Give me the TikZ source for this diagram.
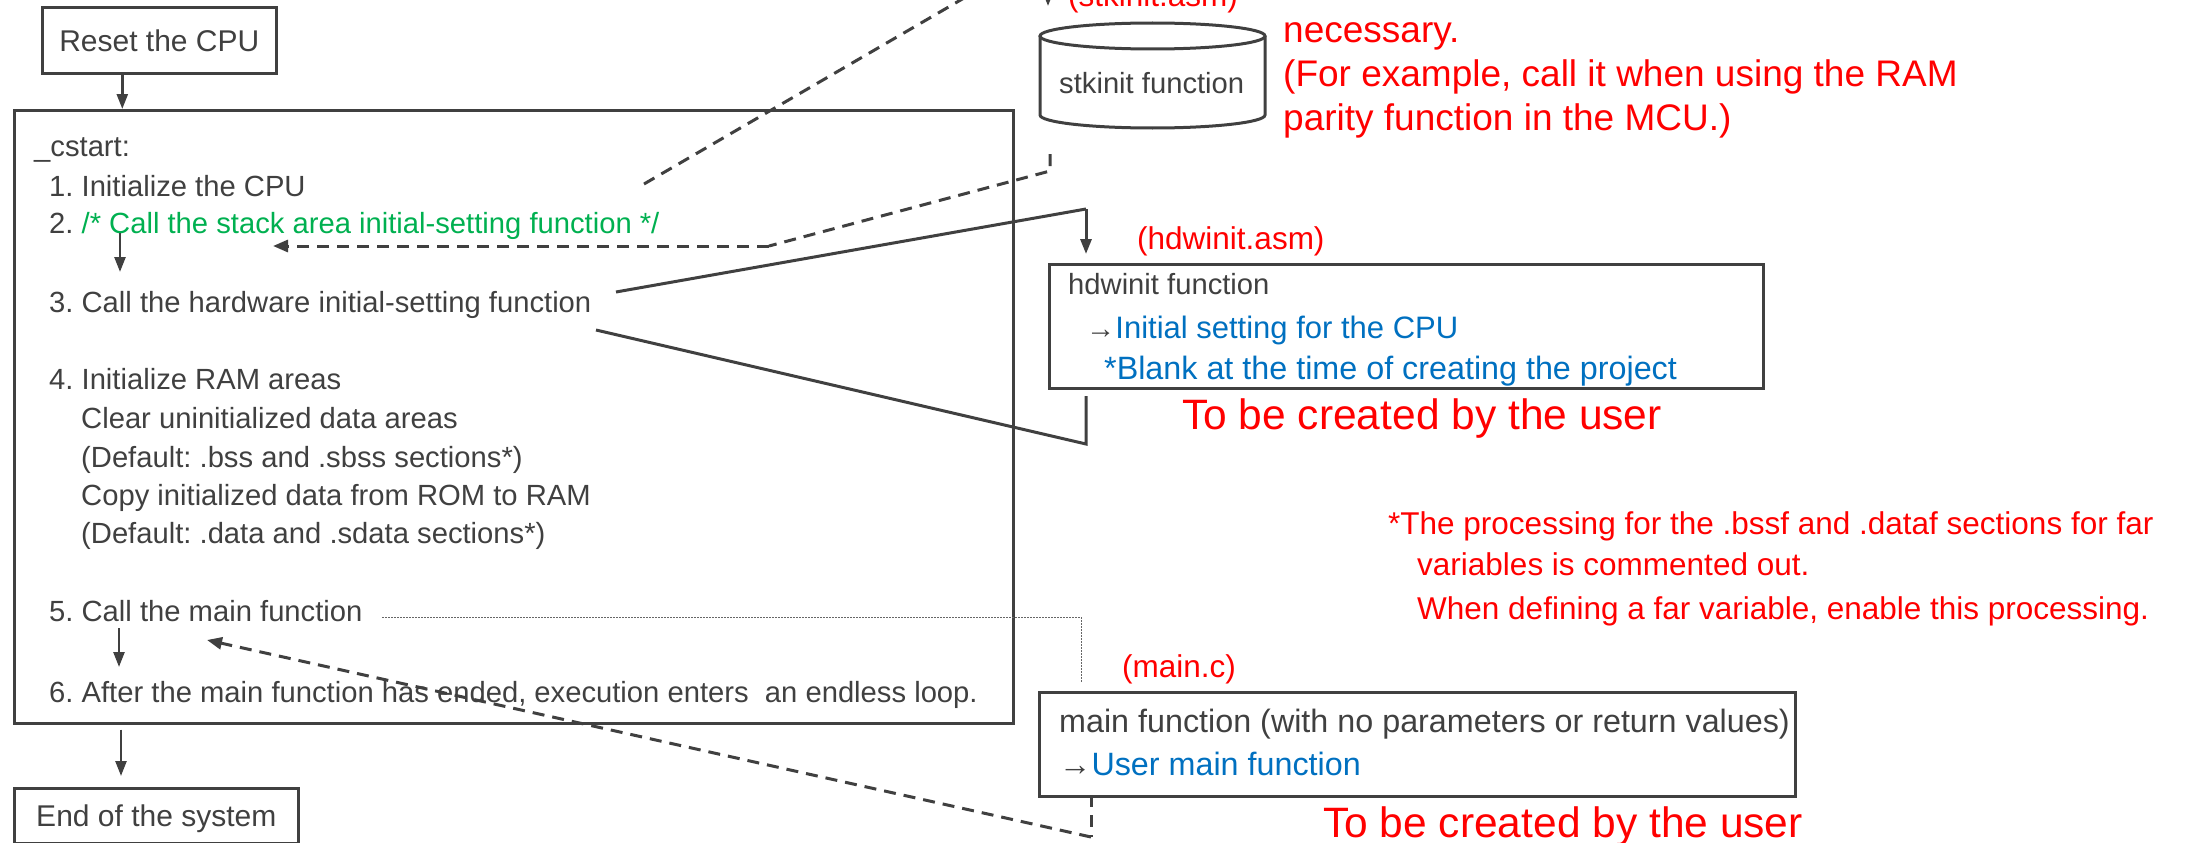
\documentclass[tikz,border=0pt]{standalone}
\usepackage{fontspec}
\setmainfont{Liberation Sans}
\usetikzlibrary{arrows.meta}
\definecolor{ink}{HTML}{404040}
\definecolor{nred}{HTML}{FF0000}
\definecolor{ngreen}{HTML}{00B050}
\definecolor{nblue}{HTML}{0070C0}
\frenchspacing
\tikzset{
 box/.style={draw=ink, line width=2.6pt, inner sep=0pt, text=ink, font=\fontsize{30}{36}\selectfont},
 txt/.style={anchor=base west, inner sep=0pt, text=ink, font=\fontsize{29.2}{36}\selectfont},
 txtl/.style={txt, font=\fontsize{32.3}{38}\selectfont},
 note/.style={anchor=base west, inner sep=0pt, text=nred, font=\fontsize{31.5}{38}\selectfont},
 notel/.style={note, font=\fontsize{37}{44}\selectfont},
 bignote/.style={anchor=base west, inner sep=0pt, text=nred, font=\fontsize{42.5}{50}\selectfont},
 arr/.style={draw=ink, line width=2.5pt, -{Triangle[length=15pt,width=11pt]}},
 dsh/.style={draw=ink, line width=3pt, dash pattern=on 12pt off 8pt},
 dsharr/.style={dsh, -{Triangle[length=15pt,width=12pt]}},
 solidline/.style={draw=ink, line width=3pt},
 solidarr/.style={solidline, -{Triangle[length=15pt,width=11pt]}},
 dotline/.style={draw=ink!80, line width=1pt, dash pattern=on 1.5pt off 1.5pt},
}
\begin{document}
\begin{tikzpicture}[x=1pt,y=-1pt]
\useasboundingbox (0,0) rectangle (2192,843);
\clip (0,0) rectangle (2192,843);

% boxes
\node[box, anchor=north west, minimum width=234pt, minimum height=66pt, text depth=0pt] (reset) at (41,6) {Reset the CPU};
\node[box, anchor=north west, minimum width=999pt, minimum height=613pt] (cstart) at (13,109) {};
\node[box, anchor=north west, minimum width=284pt, minimum height=55pt, text depth=0pt] (end) at (13,787) {End of the system};
\node[box, line width=3pt, anchor=north west, minimum width=714pt, minimum height=124pt] (hdw) at (1048,263) {};
\node[box, line width=3pt, anchor=north west, minimum width=756pt, minimum height=104pt] (mainc) at (1038,691) {};

% stkinit cylinder
\draw[ink, line width=3pt] (1040,36) -- (1040,115) arc[start angle=180, end angle=0, x radius=112.5, y radius=13] -- (1265,36);
\draw[ink, line width=3pt] (1152.5,36) ellipse [x radius=112.5, y radius=13];
\node[txt] (stk) at (1059,93) {stkinit function};

% _cstart text
\node[txt] (c0) at (34,156) {\_cstart:};
\node[txt] (i1) at (49,196) {1. Initialize the CPU};
\node[txt] (i2) at (49,233) {2. {\color{ngreen}/* Call the stack area initial-setting function */}};
\node[txt] (i3) at (49,312) {3. Call the hardware initial-setting function};
\node[txt] (i4) at (49,389) {4. Initialize RAM areas};
\node[txt] (i4a) at (81,428) {Clear uninitialized data areas};
\node[txt] (i4b) at (81,467) {(Default: .bss and .sbss sections*)};
\node[txt] (i4c) at (81,505) {Copy initialized data from ROM to RAM};
\node[txt] (i4d) at (81,543) {(Default: .data and .sdata sections*)};
\node[txt] (i5) at (49,621) {5. Call the main function};
\node[txt] (i6) at (49,702) {6. After the main function has ended, execution enters~ an endless loop.};

% hdwinit text
\node[note] (hdwfile) at (1137,249) {(hdwinit.asm)};
\node[txt] (h1) at (1068,294) {hdwinit function};
\node[txt] (h2) at (1086,338) {→{\fontsize{31}{36}\selectfont\color{nblue}Initial setting for the CPU}};
\node[txtl, text=nblue] (h3) at (1104,379) {*Blank at the time of creating the project};
\node[bignote] (user1) at (1182,429) {To be created by the user};

% stkinit notes
\node[note] (stkfile) at (1068,7) {(stkinit.asm)};
\node[notel] (n1) at (1283,43) {necessary.};
\node[notel] (n2) at (1283,86) {(For example, call it when using the RAM};
\node[notel] (n3) at (1283,130) {parity function in the MCU.)};

% footnote
\node[note] (f1) at (1388,534) {*The processing for the .bssf and .dataf sections for far};
\node[note] (f2) at (1417,575) {variables is commented out.};
\node[note] (f3) at (1417,619) {When defining a far variable, enable this processing.};

% main.c
\node[note] (mainfile) at (1122,677) {(main.c)};
\node[txtl] (m1) at (1059,732) {main function (with no parameters or return values)};
\node[txtl] (m2) at (1059,775) {→{\color{nblue}User main function}};
\node[bignote] (user2) at (1323,837) {To be created by the user};

% coordinates
\coordinate (topin) at (1048,-30);
\coordinate (topend) at (1048,6);
\coordinate (stkout) at (1050,154);
\coordinate (k1) at (1050,171);
\coordinate (k2) at (769,246);
\coordinate (stkret) at (273,246);
\coordinate (callfrom) at (644,184);
\coordinate (callto) at (995,-20);
\coordinate (hA) at (616,292);
\coordinate (hA1) at (1086,209);
\coordinate (hA2) at (1086,254);
\coordinate (hB) at (596,330);
\coordinate (hB1) at (1086,444);
\coordinate (hB2) at (1086,396);
\coordinate (d0) at (382,617);
\coordinate (d1) at (1081,617);
\coordinate (d2) at (1081,682);
\coordinate (mout) at (1091,795);
\coordinate (m1c) at (1091,837);
\coordinate (mret) at (207,640);

% connectors
\draw[arr] ([xshift=-37pt]reset.south) -- ([xshift=-37pt]reset.south |- cstart.north);
\draw[arr] ([xshift=71pt]i2.base west) -- ++(0,39);
\draw[arr] ([xshift=70pt,yshift=-7pt]i5.base west) -- ++(0,39);
\draw[arr, shorten >=11pt] ([xshift=108pt,yshift=-5pt]cstart.south west) -- ([xshift=108pt]cstart.south west |- end.north);
\draw[arr] (topin) -- (topend);

\draw[dsh] (stkout) -- (k1) -- (k2);
\draw[dsharr] (k2) -- (stkret);
\draw[dsh] (callfrom) -- (callto);

\draw[solidline] (hA) -- (hA1);
\draw[solidarr] (hA1) -- (hA2);
\draw[solidline] (hB) -- (hB1) -- (hB2);

\draw[dotline] (d0) -- (d1) -- (d2);

\draw[dsh] (mout) -- (m1c);
\draw[dsharr] (m1c) -- (mret);
\end{tikzpicture}
\end{document}
